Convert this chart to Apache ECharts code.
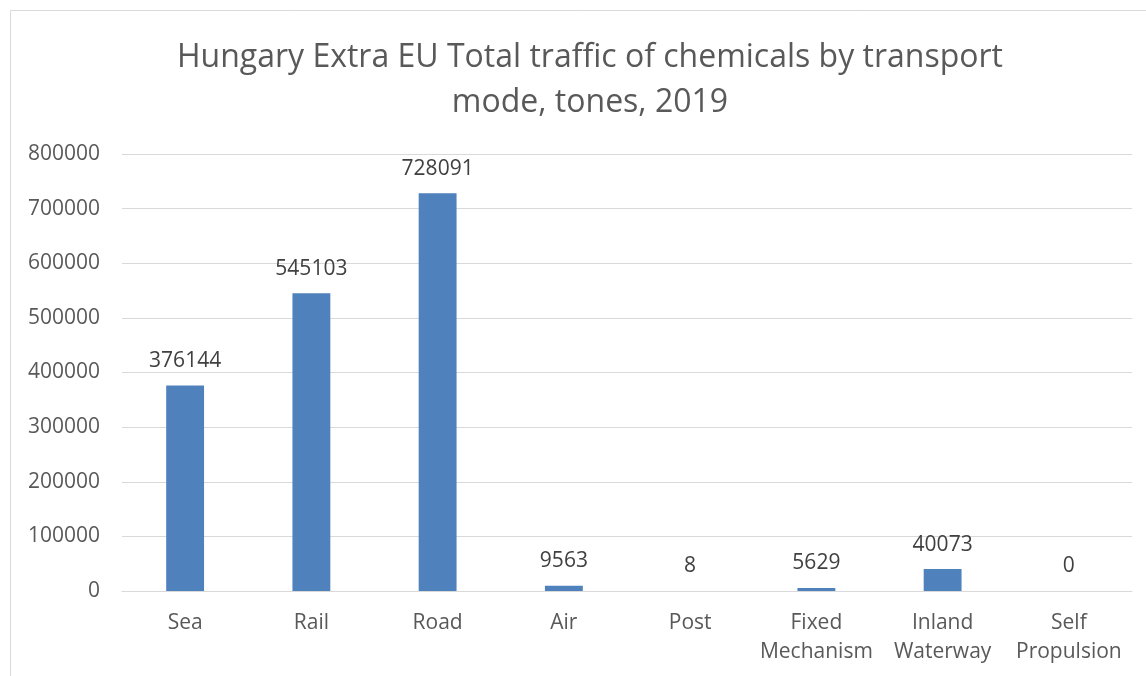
<!DOCTYPE html>
<html><head><meta charset="utf-8">
<script src="https://cdn.jsdelivr.net/npm/echarts@6/dist/echarts.min.js"></script>
<style>html,body{margin:0;padding:0;background:#fff}#c{width:1146px;height:676px}</style>
</head><body><div id="c"></div>
<script>
const categories = ['Sea', 'Rail', 'Road', 'Air', 'Post', 'Fixed\nMechanism', 'Inland\nWaterway', 'Self\nPropulsion'];
const values = [376144, 545103, 728091, 9563, 8, 5629, 40073, 0];
const yTicks = [0, 100000, 200000, 300000, 400000, 500000, 600000, 700000, 800000];
const titleText = 'Hungary Extra EU Total traffic of chemicals by transport\nmode, tones, 2019';
const FONT = '"Open Sans", "Noto Sans", sans-serif';
const chart = echarts.init(document.getElementById('c'));
chart.setOption({
  animation: false,
  backgroundColor: '#fff',
  graphic: [{type:'rect', shape:{x:10.5, y:10.5, width:1300, height:800}, style:{fill:'none', stroke:'#d9d9d9', lineWidth:1}, silent:true}],
  title: {text: titleText, left: 585, top: 30, textAlign: 'center',
    textStyle: {fontFamily: FONT, fontSize: 32, fontWeight: 'normal', color: '#595959', lineHeight: 45}},
  grid: {left: 122, right: 14, top: 154, bottom: 85, containLabel: false},
  xAxis: {type: 'category', data: categories,
    axisLine: {lineStyle: {color: '#d9d9d9', width: 1}}, axisTick: {show: false},
    axisLabel: {fontFamily: FONT, fontSize: 21, color: '#595959', lineHeight: 29, margin: 18, interval: 0}},
  yAxis: {type: 'value', min: yTicks[0], max: yTicks[yTicks.length-1], interval: 100000,
    axisLine: {show: false}, axisTick: {show: false},
    splitLine: {lineStyle: {color: '#d9d9d9', width: 1}},
    axisLabel: {fontFamily: FONT, fontSize: 21, color: '#595959', margin: 22, formatter: v => String(v)}},
  series: [{type: 'bar', data: values, barWidth: '30%',
    itemStyle: {color: '#4f81bd'},
    label: {show: true, position: 'top', distance: 14, fontFamily: FONT, fontSize: 21, color: '#404040'}}]
});
</script></body></html>
